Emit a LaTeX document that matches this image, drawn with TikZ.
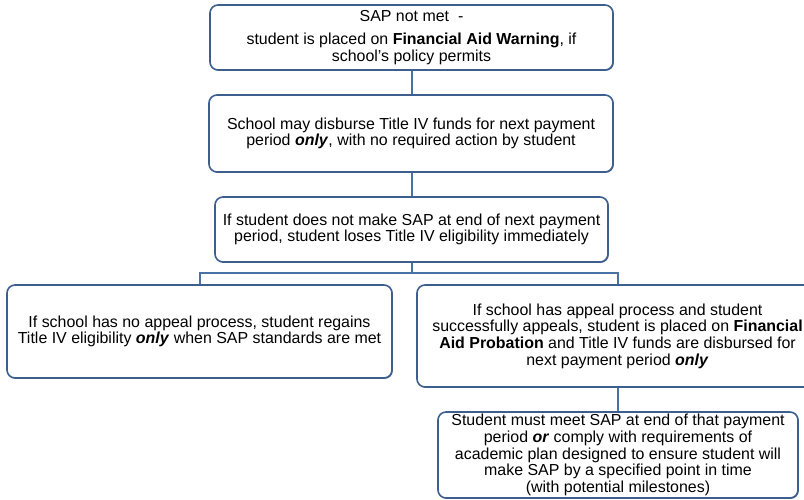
\documentclass[tikz,border=0pt]{standalone}
\usepackage{fontspec}
\setmainfont{Liberation Sans}
\usetikzlibrary{shadows}
\definecolor{boxline}{HTML}{3D5F8E}
\definecolor{conn}{HTML}{4872A6}
\begin{document}
\begin{tikzpicture}[x=1bp,y=-1bp,
  box/.style={draw=boxline, line width=1.6bp, rounded corners=8bp, fill=white,
    align=center, inner sep=1bp, font=\fontsize{16}{16.8}\selectfont,
    drop shadow={shadow xshift=0.8bp, shadow yshift=-0.8bp, fill=boxline!80!black, opacity=0.8}},
  link/.style={draw=conn, line width=1.6bp}]
\useasboundingbox (0,0) rectangle (804,500);
\begin{scope}
\clip (0,0) rectangle (804,500);
\node[box, minimum width=403bp, minimum height=65bp] (b1) at (411.5,37.5)
  {SAP not met\ \ -\\[6bp] student is placed on \textbf{Financial Aid Warning}, if\\ school’s policy permits};
\node[box, minimum width=404bp, minimum height=77bp] (b2) at (411,133.5)
  {School may disburse Title IV funds for next payment\\ period \textbf{\textit{only}}, with no required action by student};
\node[box, minimum width=393bp, minimum height=65bp] (b3) at (411.5,229.5)
  {If student does not make SAP at end of next payment\\ period, student loses Title IV eligibility immediately};
\node[box, minimum width=385bp, minimum height=93bp] (b4) at (199.5,331.5)
  {If school has no appeal process, student regains\\ Title IV eligibility \textbf{\textit{only}} when SAP standards are met};
\node[box, minimum width=401bp, minimum height=102bp] (b5) at (617.5,336)
  {If school has appeal process and student\\ successfully appeals, student is placed on \textbf{Financial}\\ \textbf{Aid Probation} and Title IV funds are disbursed for\\ next payment period \textbf{\textit{only}}};
\node[box, minimum width=360bp, minimum height=86bp] (b6) at (618,455)
  {Student must meet SAP at end of that payment\\ period \textbf{\textit{or}} comply with requirements of\\ academic plan designed to ensure student will\\ make SAP by a specified point in time\\ (with potential milestones)};
\coordinate (j) at (412,273);
\coordinate (jl) at (200,273);
\coordinate (jr) at (618,273);
\draw[link] (b1.south -| 412,0) -- (b2.north -| 412,0);
\draw[link] (b2.south -| 412,0) -- (b3.north -| 412,0);
\draw[link] (b3.south -| 412,0) -- (j);
\draw[link] (b4.north -| jl) -- (jl) -- (jr) -- (b5.north -| jr);
\draw[link] (b5.south -| 618,0) -- (b6.north -| 618,0);
\end{scope}
\end{tikzpicture}
\end{document}
